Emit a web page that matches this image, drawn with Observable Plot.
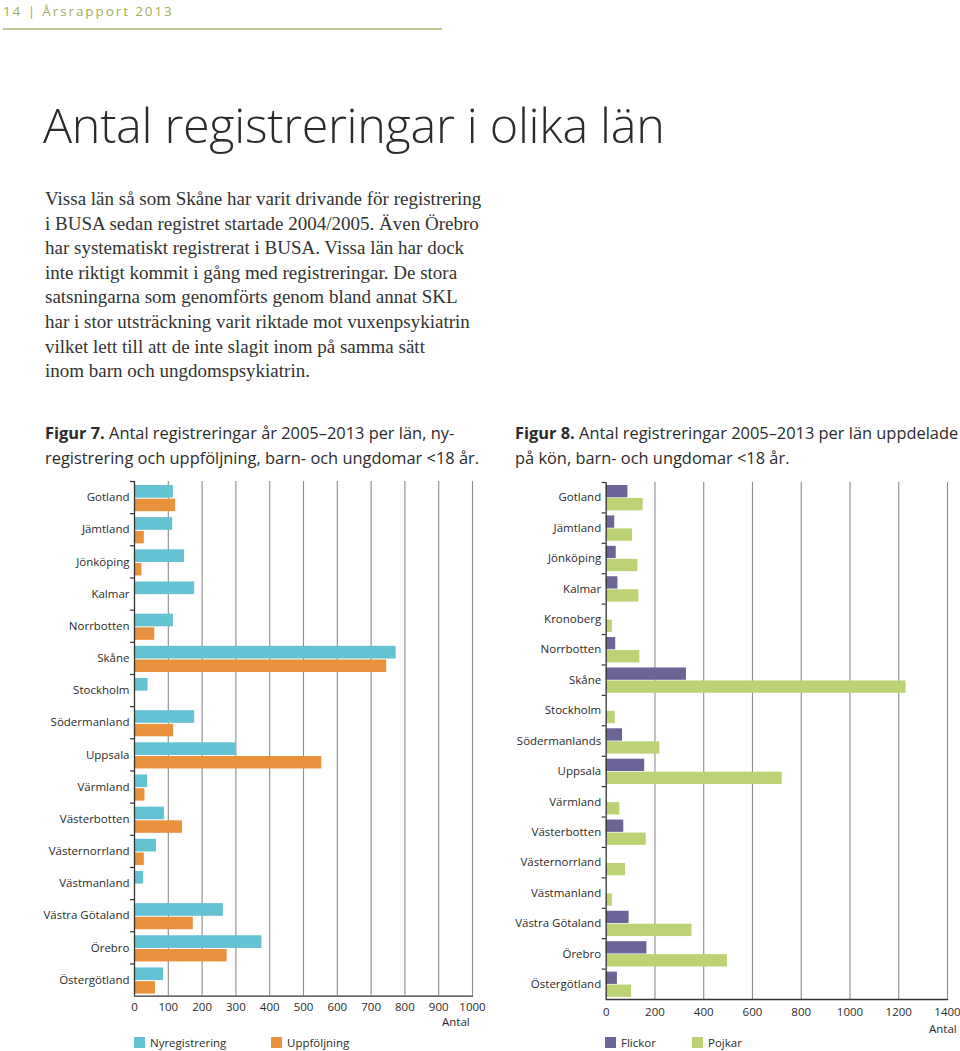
<!DOCTYPE html>
<html>
<head>
<meta charset="utf-8">
<script src="https://cdn.jsdelivr.net/npm/d3@7"></script>
<script src="https://cdn.jsdelivr.net/npm/@observablehq/plot@0.6"></script>
<style>
  html, body { margin: 0; padding: 0; background: #fff; }
  #page { position: relative; width: 960px; height: 1051px; overflow: hidden; font-family: "Open Sans", "Noto Sans", sans-serif; color: #2b2b2b; }
  .abs { position: absolute; white-space: nowrap; }
  #header { left: 3px; top: 2px; font-size: 13.5px; letter-spacing: 1.9px; color: #9fae5c; }
  #hline { left: 3px; top: 28px; width: 439px; height: 2px; background: #bfc994; }
  #title { left: 43px; top: 91px; font-size: 48.5px; font-weight: 300; color: #2b2b2b; letter-spacing: -0.3px; }
  #body { left: 45px; top: 187px; font-family: "Liberation Serif", serif; font-size: 19px; line-height: 24.6px; color: #333; }
  .cap { font-size: 16.4px; line-height: 25px; color: #2b2b2b; }
  .cap b { font-weight: 700; }
  #cap7 { left: 45px; top: 420px; }
  #cap8 { left: 515px; top: 420px; }
  .chart { position: absolute; }
  .lg { font-size: 11.5px; color: #2b2b2b; display: flex; align-items: center; }
  .sw { width: 11px; height: 11px; display: inline-block; }
  .antal { font-size: 11.5px; color: #2b2b2b; }
</style>
</head>
<body>
<div id="page">
  <div id="header" class="abs">14 | Årsrapport 2013</div>
  <div id="hline" class="abs"></div>
  <div id="title" class="abs">Antal registreringar i olika län</div>
  <div id="body" class="abs">Vissa län så som Skåne har varit drivande för registrering<br>i BUSA sedan registret startade 2004/2005. Även Örebro<br>har systematiskt registrerat i BUSA. Vissa län har dock<br>inte riktigt kommit i gång med registreringar. De stora<br>satsningarna som genomförts genom bland annat SKL<br>har i stor utsträckning varit riktade mot vuxenpsykiatrin<br>vilket lett till att de inte slagit inom på samma sätt<br>inom barn och ungdomspsykiatrin.</div>
  <div id="cap7" class="abs cap"><b>Figur 7.</b> Antal registreringar år 2005–2013 per län, ny-<br>registrering och uppföljning, barn- och ungdomar &lt;18 år.</div>
  <div id="cap8" class="abs cap"><b>Figur 8.</b> Antal registreringar 2005–2013 per län uppdelade<br>på kön, barn- och ungdomar &lt;18 år.</div>
  <div id="chart7" class="chart" style="left:0px; top:470px;"></div>
  <div id="chart8" class="chart" style="left:470px; top:470px;"></div>
  <div class="abs antal" style="left:442px; top:1014px;">Antal</div>
  <div class="abs antal" style="left:929px; top:1021px;">Antal</div>
  <div class="abs lg" style="left:134px; top:1035px;"><span class="sw" style="background:#63c3d3"></span><span style="margin-left:5px">Nyregistrering</span></div>
  <div class="abs lg" style="left:271px; top:1035px;"><span class="sw" style="background:#e9913c"></span><span style="margin-left:5px">Uppföljning</span></div>
  <div class="abs lg" style="left:605px; top:1035px;"><span class="sw" style="background:#6b6597"></span><span style="margin-left:5px">Flickor</span></div>
  <div class="abs lg" style="left:692px; top:1035px;"><span class="sw" style="background:#bcd274"></span><span style="margin-left:5px">Pojkar</span></div>
</div>
<script>
// ---- Figur 7 data ----
const counties7 = ["Gotland","Jämtland","Jönköping","Kalmar","Norrbotten","Skåne","Stockholm","Södermanland","Uppsala","Värmland","Västerbotten","Västernorrland","Västmanland","Västra Götaland","Örebro","Östergötland"];
const nyregistrering = [115,113,148,178,115,774,40,178,300,39,89,65,27,263,377,86];
const uppfoljning = [122,29,22,0,60,746,0,116,554,31,142,29,0,174,274,62];
const ticks7 = [0,100,200,300,400,500,600,700,800,900,1000];

// ---- Figur 8 data ----
const counties8 = ["Gotland","Jämtland","Jönköping","Kalmar","Kronoberg","Norrbotten","Skåne","Stockholm","Södermanlands","Uppsala","Värmland","Västerbotten","Västernorrland","Västmanland","Västra Götaland","Örebro","Östergötland"];
const flickor = [89,35,41,48,0,39,329,0,67,158,0,72,0,0,94,167,46];
const pojkar = [152,108,130,134,25,138,1230,37,220,722,56,164,79,25,352,497,104];
const ticks8 = [0,200,400,600,800,1000,1200,1400];

const axisColor = "#333";
const gridColor = "#8c8c8c";
const fontFam = "'Open Sans', 'Noto Sans', sans-serif";

function groupedChart({counties, a, b, colA, colB, ticks, domain, width, height, marginLeft, marginRight, marginTop, marginBottom, insA, insB, tickPad}) {
  const dataA = counties.map((c, i) => ({county: c, value: a[i]}));
  const dataB = counties.map((c, i) => ({county: c, value: b[i]}));
  const band = (height - marginTop - marginBottom) / counties.length;
  return Plot.plot({
    width, height, marginLeft, marginRight, marginTop, marginBottom,
    style: {fontFamily: fontFam, fontSize: "11.5px", color: "#2b2b2b", background: "transparent"},
    x: {domain, ticks},
    y: {domain: counties, padding: 0, round: false},
    marks: [
      Plot.gridX(ticks.filter(t => t > 0), {stroke: gridColor, strokeOpacity: 1, strokeWidth: 1.1}),
      Plot.barX(dataA, {x: "value", y: "county", fill: colA, insetTop: insA[0], insetBottom: insA[1]}),
      Plot.barX(dataB, {x: "value", y: "county", fill: colB, insetTop: insB[0], insetBottom: insB[1]}),
      Plot.ruleX([0], {stroke: axisColor, strokeWidth: 1.3}),
      Plot.frame({anchor: "bottom", stroke: axisColor, strokeWidth: 1.3}),
      Plot.axisY({tickSize: 4, text: null, label: null, dy: -band / 2, stroke: axisColor, strokeWidth: 1.2}),
      Plot.axisY({tickSize: 0, tickPadding: 5, label: null}),
      Plot.axisX({ticks, tickSize: 0, tickPadding: tickPad, label: null, tickFormat: d => String(d)})
    ]
  });
}

document.getElementById("chart7").appendChild(groupedChart({
  counties: counties7, a: nyregistrering, b: uppfoljning, colA: "#63c3d3", colB: "#e9913c",
  ticks: ticks7, domain: [0, 1000], width: 490, height: 566,
  marginLeft: 134, marginRight: 18, marginTop: 11, marginBottom: 40.4,
  insA: [4, 15.5], insB: [17.7, 2], tickPad: 7
}));

document.getElementById("chart8").appendChild(groupedChart({
  counties: counties8, a: flickor, b: pojkar, colA: "#6b6597", colB: "#bcd274",
  ticks: ticks8, domain: [0, 1400], width: 490, height: 570,
  marginLeft: 135.7, marginRight: 13, marginTop: 12, marginBottom: 41,
  insA: [3, 15.1], insB: [16, 2.1], tickPad: 8
}));
</script>
</body>
</html>
